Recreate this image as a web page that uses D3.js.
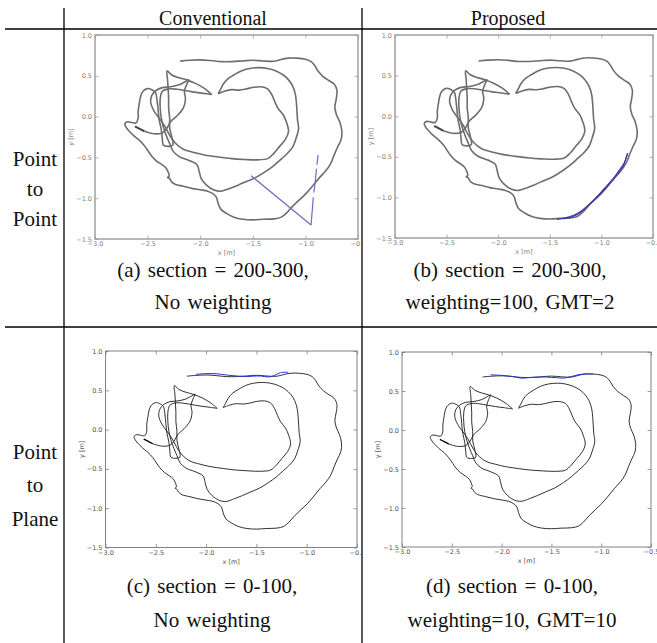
<!DOCTYPE html>
<html>
<head>
<meta charset="utf-8">
<script src="https://d3js.org/d3.v7.min.js"></script>
<style>
  body { margin: 0; background: #fff; }
  .serif { font-family: "Liberation Serif", "DejaVu Serif", serif; fill: #111; }
  .tick text { font-family: "DejaVu Sans", sans-serif; }
</style>
</head>
<body>
<script>
// ---- data (metres) ----
var xTicks = [-3.0, -2.5, -2.0, -1.5, -1.0, -0.5]
var yTicks = [1.0, 0.5, 0.0, -0.5, -1.0, -1.5]
var columnTitles = ['Conventional', 'Proposed']
var rowTitles = [['Point', 'to', 'Point'], ['Point', 'to', 'Plane']]
var captions = [
  ['(a) section = 200-300,', 'No weighting'],
  ['(b) section = 200-300,', 'weighting=100, GMT=2'],
  ['(c) section = 0-100,', 'No weighting'],
  ['(d) section = 0-100,', 'weighting=10, GMT=10']
]

// outer loop, starting at the top-left end, ending in the left tangle
var outerLoop = [
  [-2.19,0.68],[-2.10,0.69],[-2.00,0.695],[-1.90,0.687],[-1.80,0.674],[-1.70,0.674],[-1.60,0.682],
  [-1.50,0.691],[-1.40,0.682],[-1.30,0.678],[-1.23,0.70],[-1.16,0.717],[-1.08,0.717],[-1.00,0.704],
  [-0.945,0.674],[-0.91,0.622],[-0.88,0.558],[-0.834,0.494],[-0.777,0.442],[-0.727,0.399],[-0.70,0.322],
  [-0.707,0.215],[-0.72,0.116],[-0.704,0.021],[-0.674,-0.064],[-0.654,-0.172],[-0.66,-0.279],
  [-0.694,-0.373],[-0.727,-0.472],[-0.761,-0.579],[-0.807,-0.665],[-0.868,-0.751],[-0.928,-0.845],
  [-0.995,-0.944],[-1.055,-1.017],[-1.118,-1.094],[-1.178,-1.18],[-1.229,-1.232],[-1.295,-1.253],
  [-1.396,-1.258],[-1.496,-1.266],[-1.596,-1.258],[-1.68,-1.232],[-1.747,-1.189],[-1.803,-1.137],
  [-1.83,-1.06],[-1.847,-0.987],[-1.88,-0.944],[-1.93,-0.914],[-2.00,-0.897],[-2.08,-0.88],
  [-2.16,-0.854],[-2.24,-0.828],[-2.275,-0.794],[-2.29,-0.76],[-2.31,-0.745],[-2.295,-0.73],
  [-2.325,-0.63],[-2.365,-0.588],[-2.415,-0.545],[-2.46,-0.485],[-2.49,-0.43],[-2.53,-0.356],
  [-2.58,-0.288],[-2.63,-0.236],[-2.67,-0.185],[-2.705,-0.13],[-2.716,-0.086],[-2.69,-0.064],
  [-2.65,-0.073],[-2.61,-0.077],[-2.59,-0.02],[-2.59,0.064],[-2.58,0.15],[-2.57,0.227],[-2.55,0.30],
  [-2.505,0.343],[-2.46,0.33],[-2.425,0.296],[-2.41,0.20],[-2.40,0.08],[-2.39,-0.04],[-2.37,-0.16],
  [-2.36,-0.27],[-2.35,-0.35],[-2.30,-0.365],[-2.26,-0.35],[-2.27,-0.25],[-2.29,-0.14],[-2.29,-0.02],
  [-2.30,0.10],[-2.30,0.22],[-2.305,0.34],[-2.31,0.45],[-2.315,0.56],[-2.27,0.51],[-2.20,0.475],
  [-2.13,0.45],[-2.05,0.41],[-1.96,0.345],[-1.89,0.27]
]

var middleLoop = [
  [-1.89,0.27],[-1.97,0.285],[-2.06,0.30],[-2.15,0.32],[-2.22,0.335],[-2.30,0.34],[-2.36,0.31],
  [-2.38,0.22],[-2.38,0.10],[-2.37,-0.02],[-2.35,-0.13],[-2.32,-0.24],[-2.29,-0.33],[-2.26,-0.42],
  [-2.20,-0.49],[-2.10,-0.54],[-2.03,-0.59],[-2.01,-0.67],[-1.99,-0.76],[-1.94,-0.84],[-1.87,-0.90],
  [-1.80,-0.914],[-1.72,-0.88],[-1.64,-0.84],[-1.56,-0.795],[-1.47,-0.745],[-1.38,-0.675],
  [-1.30,-0.60],[-1.23,-0.52],[-1.17,-0.45],[-1.12,-0.37],[-1.09,-0.27],[-1.065,-0.15],[-1.075,-0.04],
  [-1.08,0.06],[-1.085,0.16],[-1.095,0.27],[-1.12,0.37],[-1.16,0.45],[-1.21,0.51],[-1.28,0.56],
  [-1.36,0.59],[-1.44,0.60],[-1.53,0.59],[-1.61,0.56],[-1.68,0.51],[-1.74,0.46],[-1.78,0.40],
  [-1.80,0.35],[-1.83,0.28]
]

var innerLoop = [
  [-1.83,0.28],[-1.77,0.31],[-1.70,0.33],[-1.63,0.325],[-1.56,0.34],[-1.49,0.36],[-1.42,0.365],
  [-1.36,0.34],[-1.32,0.27],[-1.29,0.18],[-1.26,0.10],[-1.21,0.02],[-1.18,-0.07],[-1.16,-0.18],
  [-1.19,-0.28],[-1.245,-0.365],[-1.30,-0.45],[-1.36,-0.515],[-1.46,-0.53],[-1.58,-0.525],
  [-1.70,-0.515],[-1.83,-0.495],[-1.96,-0.47],[-2.06,-0.44],[-2.16,-0.40],[-2.24,-0.32],
  [-2.29,-0.23],[-2.34,-0.11],[-2.39,-0.02],[-2.44,0.07],[-2.47,0.17],[-2.46,0.26],[-2.42,0.32],
  [-2.36,0.355],[-2.28,0.365],[-2.20,0.39],[-2.14,0.43],[-2.11,0.45],[-2.13,0.39],[-2.15,0.31],
  [-2.14,0.215],[-2.16,0.107],[-2.22,0.01],[-2.28,-0.06],[-2.32,-0.15],[-2.36,-0.20],[-2.44,-0.21],
  [-2.53,-0.18]
]

var tailEnd = [[-2.53,-0.18],[-2.575,-0.15],[-2.62,-0.12]]

// highlighted sections (blue)
var blueA = [
  [[-1.517,-0.724],[-0.946,-1.328]],
  [[-0.946,-1.328],[-0.935,-1.15],[-0.925,-0.99]],
  [[-0.92,-0.93],[-0.905,-0.78],[-0.895,-0.64]],
  [[-0.89,-0.59],[-0.88,-0.47]]
]
var blueB = [
  [[-0.745,-0.453],[-0.765,-0.53],[-0.79,-0.62],[-0.84,-0.71],[-0.90,-0.80],[-0.96,-0.89],[-1.03,-0.98],
   [-1.10,-1.07],[-1.16,-1.14],[-1.22,-1.20],[-1.29,-1.24],[-1.37,-1.265]],
  [[-0.75,-0.47],[-0.78,-0.58],[-0.83,-0.67],[-0.88,-0.76],[-0.95,-0.86],[-1.02,-0.96],[-1.08,-1.04],
   [-1.15,-1.12],[-1.21,-1.18],[-1.27,-1.22],[-1.34,-1.25],[-1.43,-1.27]]
]
var blueC = [
  [[-2.10,0.703],[-2.00,0.712],[-1.90,0.711],[-1.80,0.695],[-1.73,0.686],[-1.66,0.678],[-1.60,0.674],
   [-1.53,0.68],[-1.46,0.682],[-1.38,0.67],[-1.32,0.69],[-1.26,0.725],[-1.184,0.729]]
]
var blueD = [
  [[-2.11,0.708],[-2.00,0.70],[-1.90,0.687],[-1.80,0.665],[-1.72,0.672],[-1.63,0.678],[-1.56,0.68],
   [-1.50,0.674],[-1.44,0.67],[-1.38,0.665],[-1.30,0.685],[-1.23,0.708],[-1.15,0.72],[-1.08,0.717]]
]

// ---- layout ----
var W = 657, H = 643
var colX = [64, 362], rowY = [29, 327]

var panels = [
  {l: 95,  r: 358, t: 35,  b: 239, clipL: 65,  clipR: 361, top: true,  blue: blueA, blueColor: '#6c6cc4', cap: captions[0], cx: 213, capY: [277, 309]},
  {l: 395, r: 653, t: 35,  b: 238, clipL: 363, clipR: 657, top: true,  blue: blueB, blueColor: '#3c3ca8', cap: captions[1], cx: 510, capY: [277, 309]},
  {l: 105.5, r: 357, t: 351, b: 547.5, clipL: 65, clipR: 361, top: false, blue: blueC, blueColor: '#2233dd', cap: captions[2], cx: 212, capY: [593, 627]},
  {l: 402, r: 651, t: 352, b: 547, clipL: 363, clipR: 657, top: false, blue: blueD, blueColor: '#2233dd', cap: captions[3], cx: 512, capY: [593, 627]}
]

var svg = d3.select('body').append('svg').attr('width', W).attr('height', H)

// table rules
svg.append('line').attr('x1', colX[0]).attr('x2', colX[0]).attr('y1', 8).attr('y2', H).attr('stroke', '#000').attr('stroke-width', 1.3)
svg.append('line').attr('x1', colX[1]).attr('x2', colX[1]).attr('y1', 8).attr('y2', H).attr('stroke', '#000').attr('stroke-width', 1.3)
rowY.forEach(function (yy) {
  svg.append('line').attr('x1', 5).attr('x2', W).attr('y1', yy).attr('y2', yy).attr('stroke', '#000').attr('stroke-width', 1.3)
})

// headers
svg.append('text').attr('class', 'serif').attr('x', 213).attr('y', 25).attr('text-anchor', 'middle').style('font-size', '20px').text(columnTitles[0])
svg.append('text').attr('class', 'serif').attr('x', 508).attr('y', 25).attr('text-anchor', 'middle').style('font-size', '20px').text(columnTitles[1])

var rowBase = [[166, 196, 226], [459, 492, 526]]
rowTitles.forEach(function (words, i) {
  words.forEach(function (w, j) {
    svg.append('text').attr('class', 'serif').attr('x', 35).attr('y', rowBase[i][j])
      .attr('text-anchor', 'middle').style('font-size', '21px').text(w)
  })
})

var defs = svg.append('defs')

panels.forEach(function (p, k) {
  var x = d3.scaleLinear().domain([-3, -0.5]).range([p.l, p.r])
  var y = d3.scaleLinear().domain([-1.5, 1.0]).range([p.b, p.t])

  defs.append('clipPath').attr('id', 'clip' + k).append('rect')
    .attr('x', p.clipL).attr('y', p.t - 15).attr('width', p.clipR - p.clipL).attr('height', p.b - p.t + 40)
  defs.append('clipPath').attr('id', 'plot' + k).append('rect')
    .attr('x', p.l).attr('y', p.t).attr('width', p.r - p.l).attr('height', p.b - p.t)

  var g = svg.append('g').attr('clip-path', 'url(#clip' + k + ')')
  var frameColor = p.top ? '#a0a0a0' : '#808080'
  var labelColor = p.top ? '#808080' : '#555'
  var lineColor = p.top ? '#6e6e6e' : '#1a1a1a'
  var lineWidth = p.top ? 1.6 : 0.9

  var fmt = d3.format('.1f')
  var ax = [
    d3.axisBottom(x).tickValues(xTicks).tickFormat(fmt),
    d3.axisLeft(y).tickValues(yTicks).tickFormat(fmt),
    d3.axisTop(x).tickValues(xTicks).tickFormat(''),
    d3.axisRight(y).tickValues(yTicks).tickFormat('')
  ]
  var tr = ['translate(0,' + p.b + ')', 'translate(' + p.l + ',0)', 'translate(0,' + p.t + ')', 'translate(' + p.r + ',0)']
  ax.forEach(function (a, i) {
    var ag = g.append('g').attr('transform', tr[i])
      .call(a.tickSizeInner(-3.5).tickSizeOuter(0).tickPadding(i === 0 ? 2.5 : 3))
    ag.select('.domain').remove()
    ag.selectAll('line').attr('stroke', frameColor).attr('stroke-width', 0.8)
    ag.selectAll('text').attr('fill', labelColor).style('font-size', '6.5px')
  })

  var plot = g.append('g').attr('clip-path', 'url(#plot' + k + ')')
  var line = d3.line().x(function (d) { return x(d[0]) }).y(function (d) { return y(d[1]) })
    .curve(d3.curveCatmullRom.alpha(0.5))

  ;[outerLoop, middleLoop, innerLoop].forEach(function (s) {
    plot.append('path').attr('d', line(s)).attr('fill', 'none')
      .attr('stroke', lineColor).attr('stroke-width', lineWidth).attr('stroke-linejoin', 'round')
  })
  plot.append('path').attr('d', line(tailEnd)).attr('fill', 'none')
    .attr('stroke', p.top ? '#444' : '#000').attr('stroke-width', lineWidth + 0.5)

  p.blue.forEach(function (s) {
    plot.append('path').attr('d', line(s)).attr('fill', 'none')
      .attr('stroke', p.blueColor).attr('stroke-width', p.top ? 1.2 : 1)
  })

  g.append('rect').attr('x', p.l).attr('y', p.t).attr('width', p.r - p.l).attr('height', p.b - p.t)
    .attr('fill', 'none').attr('stroke', frameColor).attr('stroke-width', p.top ? 1.5 : 1)

  g.append('text').attr('x', (p.l + p.r) / 2).attr('y', p.b + 16).attr('text-anchor', 'middle')
    .style('font-family', 'DejaVu Sans, sans-serif').style('font-size', '6.5px').attr('fill', labelColor).text('x [m]')
  g.append('text').attr('transform', 'translate(' + (p.l - 22) + ',' + ((p.t + p.b) / 2) + ') rotate(-90)')
    .attr('text-anchor', 'middle').style('font-family', 'DejaVu Sans, sans-serif').style('font-size', '6.5px')
    .attr('fill', labelColor).text('y [m]')

  p.cap.forEach(function (c, i) {
    svg.append('text').attr('class', 'serif').attr('x', p.cx).attr('y', p.capY[i])
      .attr('text-anchor', 'middle').style('font-size', '21px').style('word-spacing', '2px').text(c)
  })
})
</script>
</body>
</html>
